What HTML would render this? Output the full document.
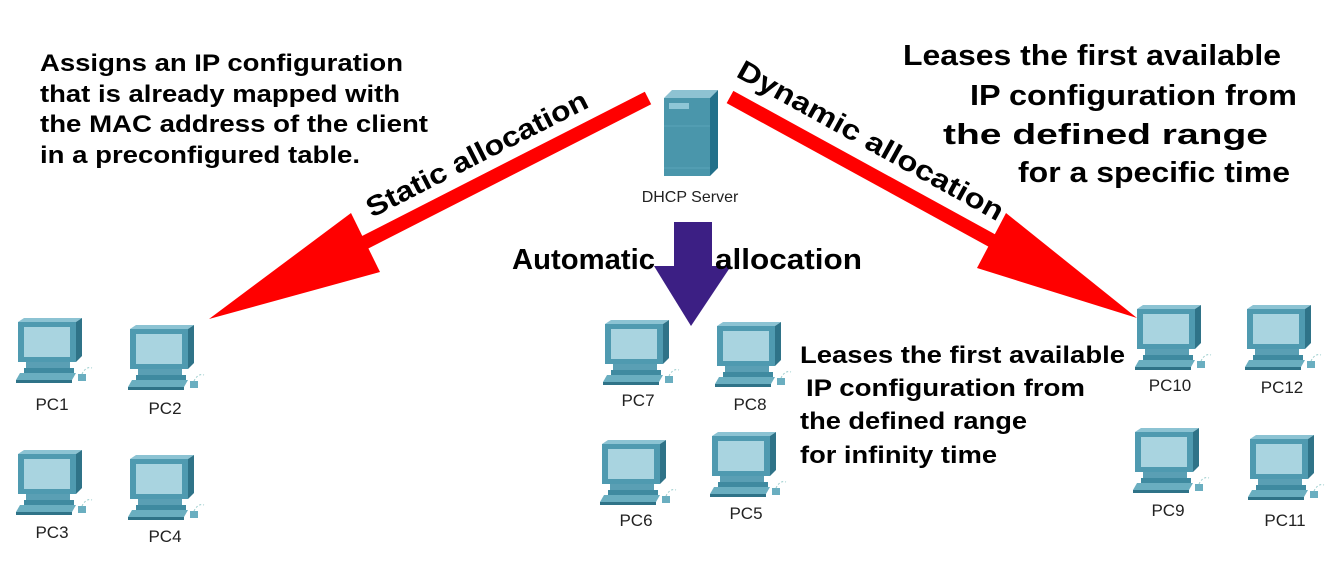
<!DOCTYPE html>
<html><head><meta charset="utf-8"><style>
body{margin:0;background:#fff;}
svg{display:block;font-family:"Liberation Sans",Arial,sans-serif;}
.b{font-weight:bold;fill:#000;}
.l{font-size:17px;fill:#222;text-anchor:middle;}
</style></head><body>
<svg width="1334" height="573" viewBox="0 0 1334 573">
<defs>
<g id="pc">
  <path d="M2 4 L8 0 L66 0 L60 4 Z" fill="#8cc3d3"/>
  <path d="M60 4 L66 0 L66 38 L60 44 Z" fill="#2f7388"/>
  <rect x="2" y="4" width="58" height="40" fill="#4f9ab0"/>
  <rect x="8" y="9" width="46" height="30" fill="#a9d4e0"/>
  <rect x="10" y="44" width="44" height="6" fill="#5a9fb4"/>
  <rect x="8" y="50" width="50" height="5" fill="#3f8aa0"/>
  <path d="M4 55 L60 55 L56 62 L0 62 Z" fill="#6aaec0"/>
  <rect x="0" y="62" width="56" height="3" fill="#2f7388"/>
  <rect x="62" y="56" width="8" height="7" fill="#6aaec0"/>
  <path d="M66 56 Q70 48 76 50" stroke="#9cc" stroke-width="1" fill="none" stroke-dasharray="2 2"/>
</g>
</defs>

<line x1="648" y1="98" x2="350" y2="250" stroke="#f00" stroke-width="14"/>
<polygon points="209,319 351,213 380,272" fill="#f00"/>
<line x1="730" y1="97" x2="1000" y2="245" stroke="#f00" stroke-width="14"/>
<polygon points="1137,318 1006,213 977,268" fill="#f00"/>
<rect x="674" y="222" width="38" height="46" fill="#3c1f84"/>
<polygon points="654,266 731,266 691,326" fill="#3c1f84"/>

<path d="M664 98 L672 90 L718 90 L710 98 Z" fill="#8ec2d2"/>
<path d="M710 98 L718 90 L718 168 L710 176 Z" fill="#22708a"/>
<rect x="664" y="98" width="46" height="78" fill="#4a96ab"/>
<rect x="669" y="103" width="20" height="6" fill="#8ec6d6"/>
<line x1="664" y1="126" x2="710" y2="126" stroke="#5aa4b8"/>
<line x1="664" y1="168" x2="710" y2="168" stroke="#5aa4b8"/>
<text x="690" y="202" class="l" style="font-size:16px">DHCP Server</text>

<g class="b" style="font-size:24px">
<text x="40" y="71" textLength="363" lengthAdjust="spacingAndGlyphs">Assigns an IP configuration</text>
<text x="40" y="102" textLength="360" lengthAdjust="spacingAndGlyphs">that is already mapped with</text>
<text x="40" y="132" textLength="388" lengthAdjust="spacingAndGlyphs">the MAC address of the client</text>
<text x="40" y="163" textLength="320" lengthAdjust="spacingAndGlyphs">in a preconfigured table.</text>
</g>
<g class="b" style="font-size:29px">
<text x="903" y="65" textLength="378" lengthAdjust="spacingAndGlyphs">Leases the first available</text>
<text x="970" y="105" textLength="327" lengthAdjust="spacingAndGlyphs">IP configuration from</text>
<text x="943" y="144" textLength="325" lengthAdjust="spacingAndGlyphs">the defined range</text>
<text x="1018" y="182" textLength="272" lengthAdjust="spacingAndGlyphs">for a specific time</text>
</g>
<g class="b" style="font-size:24px">
<text x="800" y="363" textLength="325" lengthAdjust="spacingAndGlyphs">Leases the first available</text>
<text x="806" y="396" textLength="279" lengthAdjust="spacingAndGlyphs">IP configuration from</text>
<text x="800" y="429" textLength="227" lengthAdjust="spacingAndGlyphs">the defined range</text>
<text x="800" y="463" textLength="197" lengthAdjust="spacingAndGlyphs">for infinity time</text>
</g>
<text class="b" style="font-size:29px" x="512" y="269" textLength="143" lengthAdjust="spacingAndGlyphs">Automatic</text>
<text class="b" style="font-size:29px" x="715" y="269" textLength="147" lengthAdjust="spacingAndGlyphs">allocation</text>
<text class="b" style="font-size:28px" transform="translate(372,218) rotate(-27)" textLength="245" lengthAdjust="spacingAndGlyphs">Static allocation</text>
<text class="b" style="font-size:28px" transform="translate(735,76) rotate(29)" textLength="300" lengthAdjust="spacingAndGlyphs">Dynamic allocation</text>

<use href="#pc" x="16" y="318"/><text class="l" x="52" y="410">PC1</text>
<use href="#pc" x="128" y="325"/><text class="l" x="165" y="414">PC2</text>
<use href="#pc" x="16" y="450"/><text class="l" x="52" y="538">PC3</text>
<use href="#pc" x="128" y="455"/><text class="l" x="165" y="542">PC4</text>
<use href="#pc" x="603" y="320"/><text class="l" x="638" y="406">PC7</text>
<use href="#pc" x="715" y="322"/><text class="l" x="750" y="410">PC8</text>
<use href="#pc" x="600" y="440"/><text class="l" x="636" y="526">PC6</text>
<use href="#pc" x="710" y="432"/><text class="l" x="746" y="519">PC5</text>
<use href="#pc" x="1135" y="305"/><text class="l" x="1170" y="391">PC10</text>
<use href="#pc" x="1245" y="305"/><text class="l" x="1282" y="393">PC12</text>
<use href="#pc" x="1133" y="428"/><text class="l" x="1168" y="516">PC9</text>
<use href="#pc" x="1248" y="435"/><text class="l" x="1285" y="526">PC11</text>
</svg>
</body></html>
